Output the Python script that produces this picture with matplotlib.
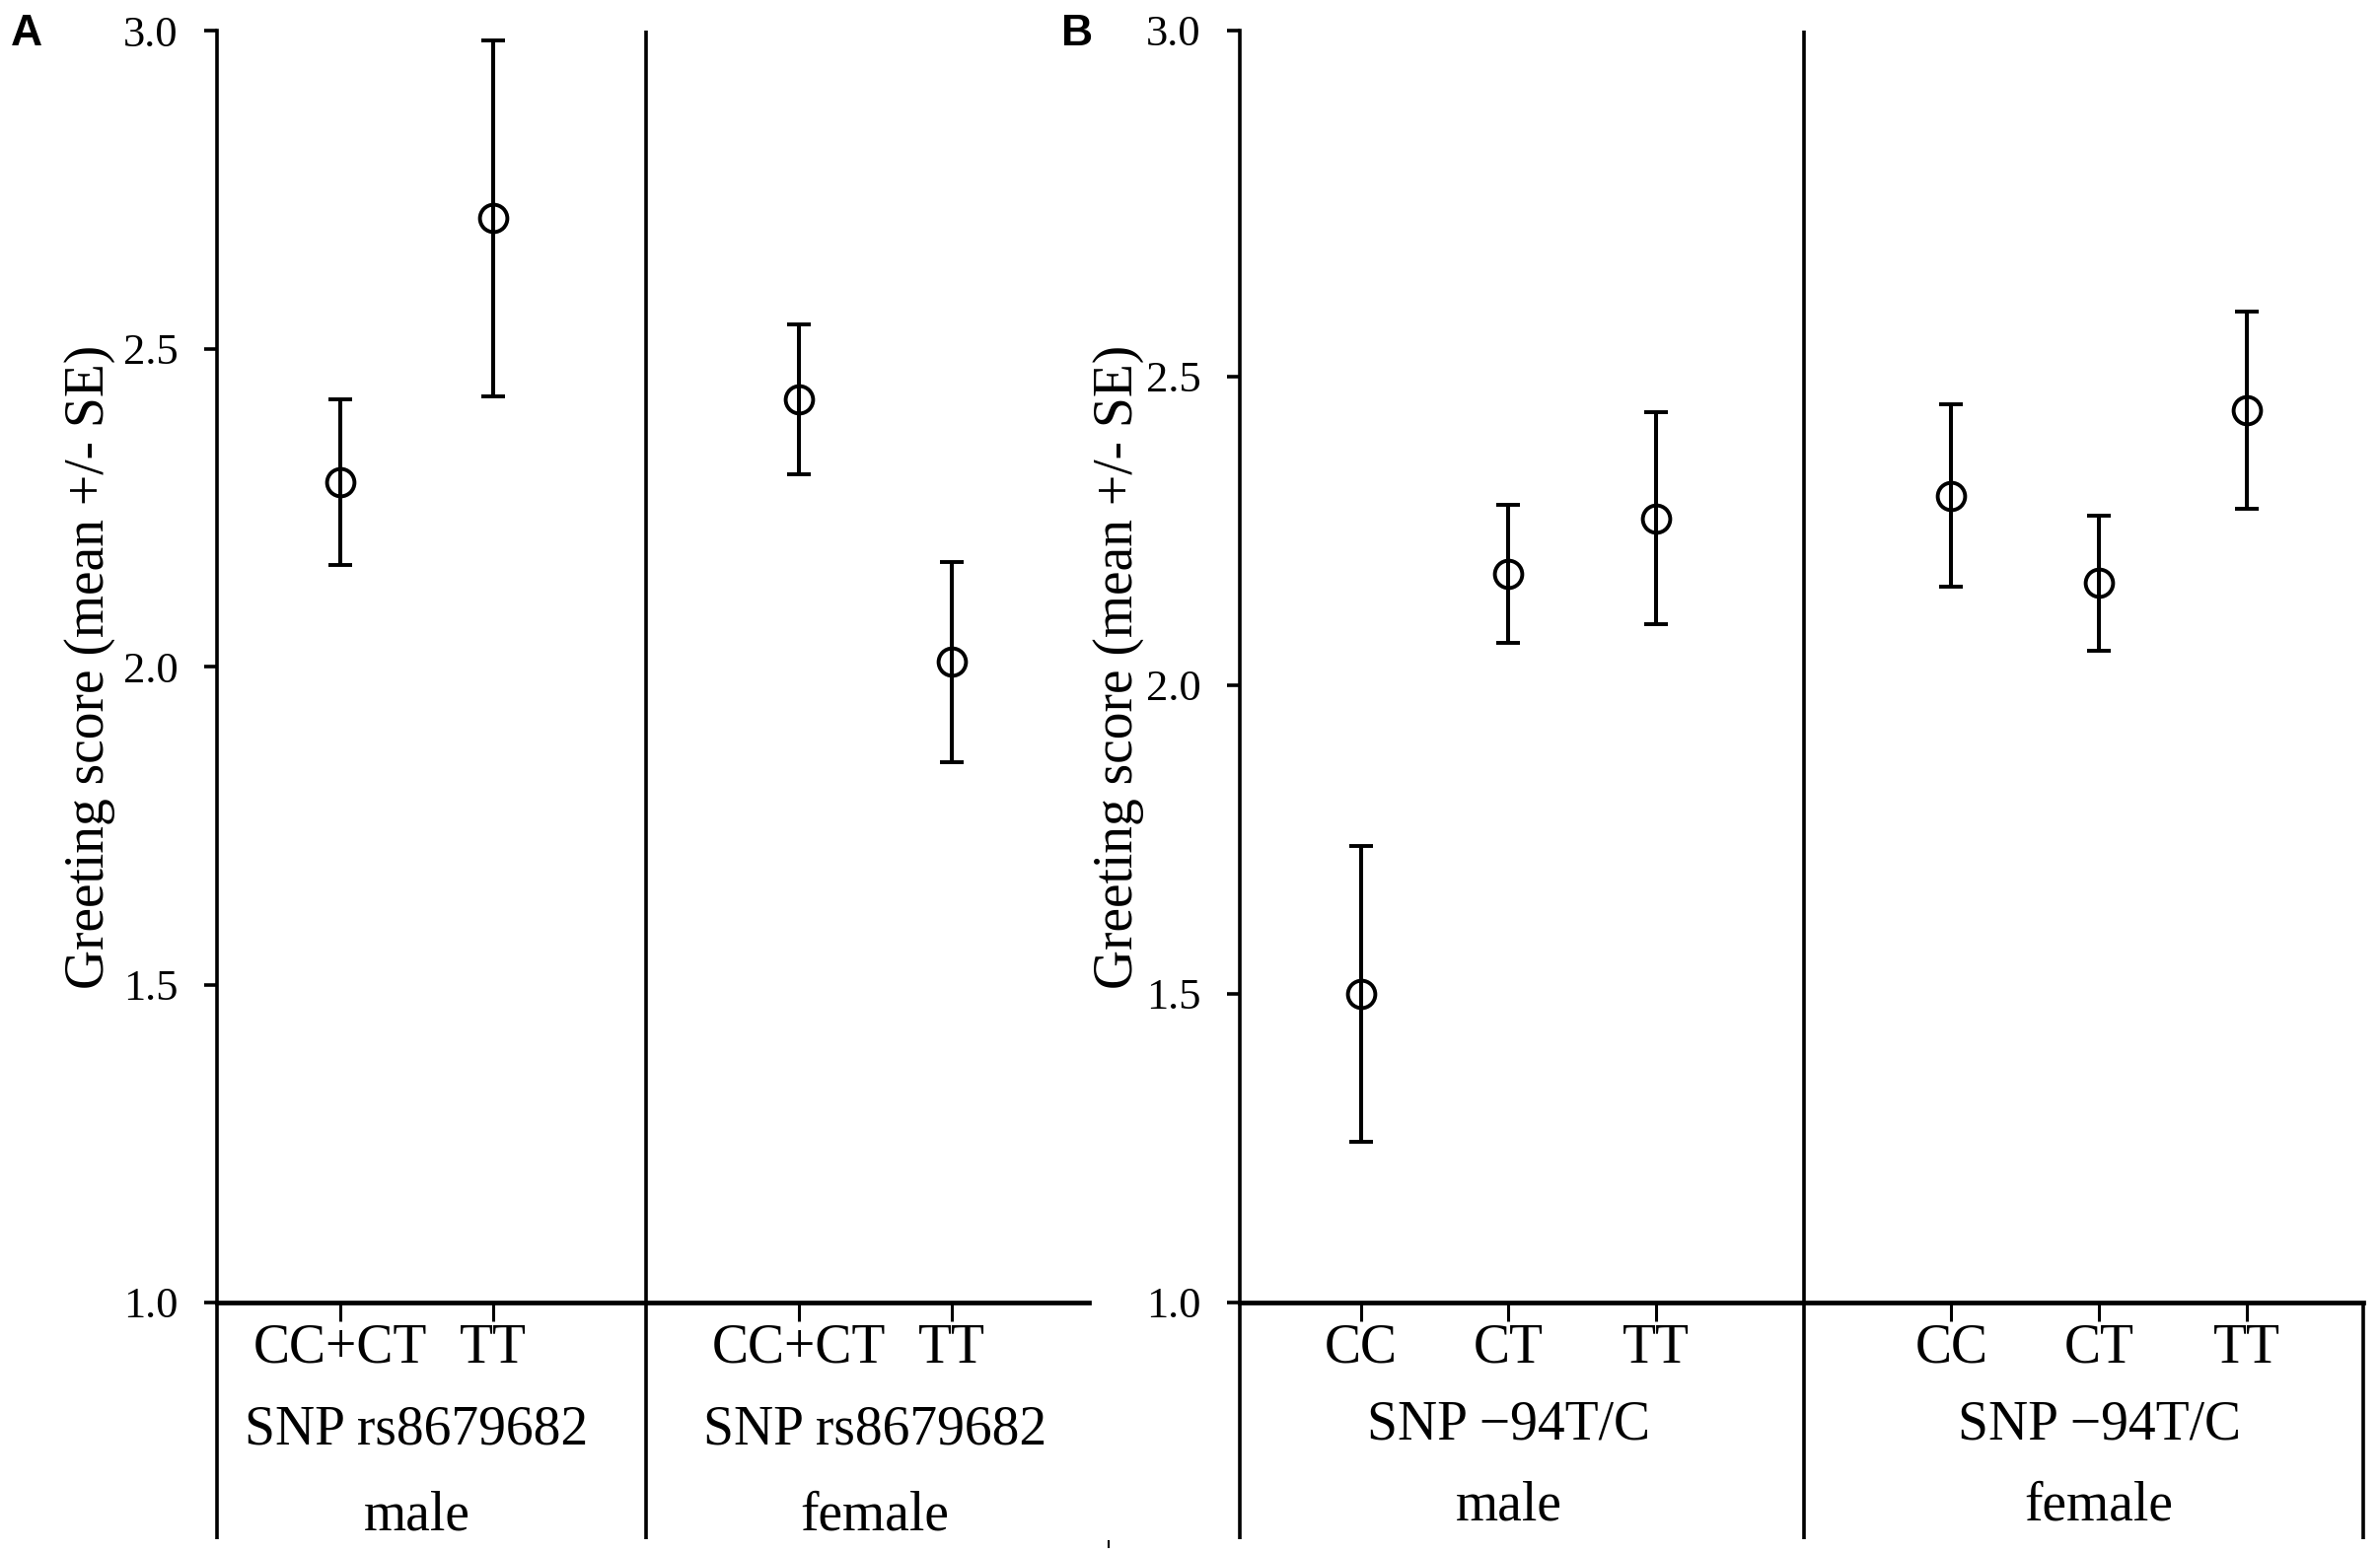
#!/usr/bin/env python
"""Greeting score by genotype and sex, two SNP panels."""

# Third party modules.
import matplotlib
matplotlib.use("Agg")
import matplotlib.pyplot as plt
from matplotlib.lines import Line2D

# Globals and constants variables.
SEXES = ["male", "female"]
Y_LABEL = "Greeting score (mean +/- SE)"
Y_TICKS = [1.0, 1.5, 2.0, 2.5, 3.0]

# Panel A: SNP rs8679682
SNP_A = "SNP rs8679682"
GENOTYPES_A = ["CC+CT", "TT"]
MALE_MEANS_A = [2.29, 2.705]
MALE_SE_A = [0.13, 0.28]
FEMALE_MEANS_A = [2.42, 2.007]
FEMALE_SE_A = [0.118, 0.157]

# Panel B: SNP -94T/C
SNP_B = "SNP \u221294T/C"
GENOTYPES_B = ["CC", "CT", "TT"]
MALE_MEANS_B = [1.50, 2.18, 2.27]
MALE_SE_B = [0.24, 0.112, 0.172]
FEMALE_MEANS_B = [2.307, 2.165, 2.445]
FEMALE_SE_B = [0.148, 0.11, 0.16]

W_px, H_px = 2413, 1573
SERIF = "Liberation Serif"

plt.rcParams["font.family"] = [SERIF, "DejaVu Serif"]


def drawPanel(ax, genotypes, maleMeans, maleSE, femaleMeans, femaleSE, snp,
              xlim, yTop, rightBorder, snpY, sexY, labelX):
    n = len(genotypes)
    xMale = list(range(1, n + 1))
    xFemale = list(range(n + 2, 2 * n + 2))
    divider = n + 1

    style = dict(fmt="o", mfc="none", mec="black", ms=20, mew=2.8,
                 ecolor="black", elinewidth=2.9, capsize=8.5, capthick=2.9,
                 zorder=3, clip_on=False)
    ax.errorbar(xMale, maleMeans, yerr=maleSE, **style)
    ax.errorbar(xFemale, femaleMeans, yerr=femaleSE, **style)

    ax.set_xlim(*xlim)
    ax.set_ylim(1.0, yTop)

    ax.set_xticks(xMale + xFemale)
    ax.set_xticklabels(genotypes + genotypes)
    ax.set_yticks(Y_TICKS[:-1] + [yTop])
    ax.set_yticklabels(["%.1f" % v for v in Y_TICKS])

    ax.tick_params(axis="y", direction="out", length=9.5, width=2.6,
                   pad=19, labelsize=32)
    ax.tick_params(axis="x", direction="out", length=14, width=2.2,
                   pad=1, labelsize=40)

    for side in ("top", "right"):
        ax.spines[side].set_visible(False)
    ax.spines["left"].set_linewidth(2.6)
    ax.spines["bottom"].set_linewidth(3.4)

    # category boxes below the axis
    bottom = -0.186
    trans = ax.get_xaxis_transform()
    ax.vlines([xlim[0]], bottom, 0, transform=trans, colors="black",
              linewidth=2.6, clip_on=False)
    ax.vlines([divider], bottom, 1.0, transform=trans, colors="black",
              linewidth=2.6, clip_on=False)
    if rightBorder:
        ax.vlines([xlim[1]], bottom, 0, transform=trans, colors="black",
                  linewidth=2.6, clip_on=False)

    for xs, sex in zip([xMale, xFemale], SEXES):
        xc = (xs[0] + xs[-1]) / 2.0
        ax.text(xc, snpY, snp, transform=trans, ha="center", va="baseline",
                fontsize=40)
        ax.text(xc, sexY, sex, transform=trans, ha="center", va="baseline",
                fontsize=40)

    ax.set_ylabel(Y_LABEL, fontsize=40)
    ax.yaxis.set_label_coords(labelX, 0.5)


def run():
    fig = plt.figure(figsize=(W_px / 100.0, H_px / 100.0), dpi=100)

    axBottom = 1 - 1321.0 / H_px
    axHeight = (1321.0 - 31.0) / H_px

    axA = fig.add_axes([220.0 / W_px, axBottom, (1104.0 - 220.0) / W_px, axHeight])
    drawPanel(axA, GENOTYPES_A, MALE_MEANS_A, MALE_SE_A, FEMALE_MEANS_A,
              FEMALE_SE_A, SNP_A, (0.194, 5.90), 3.0, False,
              -0.1109, -0.1783, -0.1165)

    axB = fig.add_axes([1257.0 / W_px, axBottom, (2396.0 - 1257.0) / W_px, axHeight])
    drawPanel(axB, GENOTYPES_B, MALE_MEANS_B, MALE_SE_B, FEMALE_MEANS_B,
              FEMALE_SE_B, SNP_B, (0.18, 7.79), 3.06, True,
              -0.1070, -0.1713, -0.0852)

    for x, letter in [(11, "A"), (1076, "B")]:
        fig.text(x / W_px, 1 - 14.0 / H_px, letter, ha="left", va="top",
                 fontsize=32, fontweight="bold", family="Liberation Sans")

    # small stray mark at the bottom between the panels
    fig.add_artist(Line2D([1124.0 / W_px, 1124.0 / W_px],
                          [1 - 1563.0 / H_px, 1 - 1569.0 / H_px],
                          color="black", linewidth=1.5))

    fig.savefig("out.png", dpi=100)


if __name__ == '__main__':
    run()
